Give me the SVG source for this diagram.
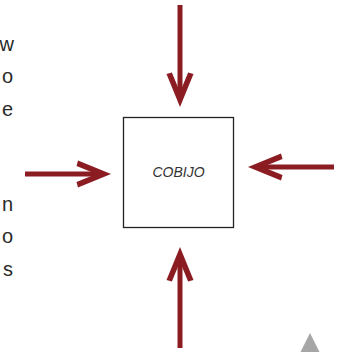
<svg xmlns="http://www.w3.org/2000/svg" width="350" height="352" viewBox="0 0 350 352">
<style>
.edge{stroke:#8a1c22;stroke-width:5;fill:none;marker-end:url(#ah)}
.frag{font-family:"Liberation Sans",Arial,sans-serif;font-size:20px;fill:#2a2a2a;text-anchor:end}
.lbl{font-family:"Liberation Sans",Arial,sans-serif;font-size:14px;font-style:italic;fill:#333;text-anchor:middle}
</style>
<defs>
<marker id="ah" markerUnits="userSpaceOnUse" viewBox="-36 -15 37 30" refX="-12" refY="0" markerWidth="37" markerHeight="30" orient="auto">
<path d="M0,0 L-33,-13.5 L-34.5,-8.1 L-14.7,0 L-34.5,8.1 L-33,13.5 Z" fill="#8a1c22"/>
</marker>
</defs>
<rect width="350" height="352" fill="#fff"/>
<g id="fragments">
<text class="frag" x="14" y="51">w</text>
<text class="frag" x="13" y="83">o</text>
<text class="frag" x="13" y="116">e</text>
<text class="frag" x="13" y="211">n</text>
<text class="frag" x="13" y="243">o</text>
<text class="frag" x="13" y="276">s</text>
</g>
<g id="connectors">
<line class="edge" x1="180" y1="5" x2="180" y2="95"/>
<line class="edge" x1="180" y1="348" x2="180" y2="259"/>
<line class="edge" x1="25" y1="174" x2="99" y2="174"/>
<line class="edge" x1="334" y1="167" x2="260" y2="167"/>
</g>
<g id="cobijo">
<rect x="123.5" y="117.5" width="110" height="110" fill="#fff" stroke="#222" stroke-width="1.3"/>
<text class="lbl" x="178.5" y="177">COBIJO</text>
</g>
<polygon id="triangle" points="310,333 300,353 320,353" fill="#a6a6a6"/>
</svg>
